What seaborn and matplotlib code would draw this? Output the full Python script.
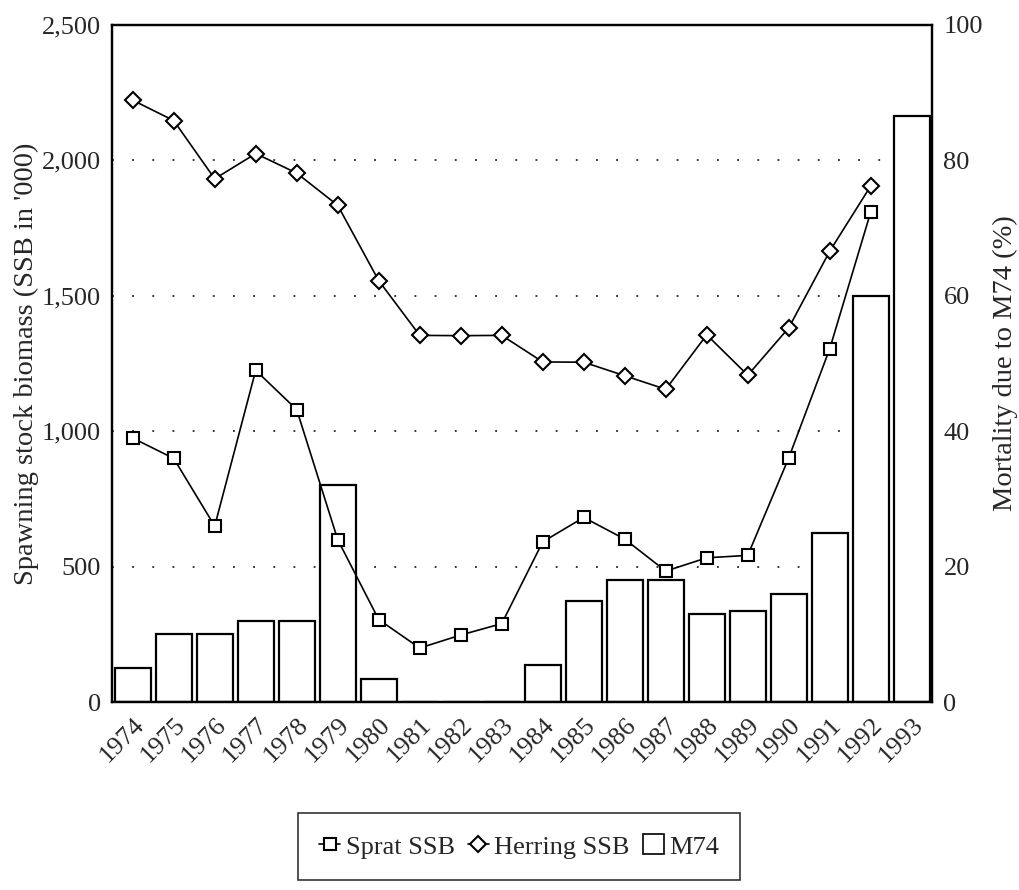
import numpy as np
import pandas as pd
import matplotlib.pyplot as plt
import seaborn as sns
from matplotlib.lines import Line2D
from matplotlib.patches import Patch

# values
years = ["1974", "1975", "1976", "1977", "1978", "1979", "1980", "1981", "1982", "1983",
         "1984", "1985", "1986", "1987", "1988", "1989", "1990", "1991", "1992", "1993"]
m74 = [5, 10, 10, 12, 12, 32, 3.5, 0, 0, 0, 5.5, 15, 18, 18, 13, 13.5, 16, 25, 60, 86.5]

ssb_years = years[:19]
sprat = [975, 900, 650, 1225, 1080, 600, 305, 200, 248, 290,
         592, 682, 602, 484, 533, 542, 902, 1305, 1810]
herring = [2222, 2147, 1932, 2025, 1953, 1834, 1556, 1354, 1353, 1354,
           1256, 1255, 1205, 1155, 1356, 1207, 1382, 1665, 1906]

left_ticks = [0, 500, 1000, 1500, 2000, 2500]
left_labels = ["0", "500", "1,000", "1,500", "2,000", "2,500"]
right_ticks = [0, 20, 40, 60, 80, 100]

sns.set_style("white")
plt.rcParams["font.family"] = ["Liberation Serif", "DejaVu Serif"]

fig = plt.figure(figsize=(10.2, 8.9), dpi=100)
ax = fig.add_axes([0.110, 0.211, 0.804, 0.761])
ax2 = ax.twinx()

# bars on the right-hand axis, lines drawn above them
sns.barplot(x=years, y=m74, color="white", edgecolor="black", linewidth=1.6,
            width=0.87, saturation=1, ax=ax2)
ax2.set_ylim(0, 100)
ax2.set_yticks(right_ticks)
ax2.yaxis.grid(True, linestyle=(0, (1.2, 12)), color="black", linewidth=1.1)
ax2.set_axisbelow(True)

sns.pointplot(x=ssb_years, y=sprat, color="black", markers="s", errorbar=None,
              linewidth=1.2, markersize=8.5, markerfacecolor="white",
              markeredgewidth=1.5, ax=ax)
sns.pointplot(x=ssb_years, y=herring, color="black", markers="D", errorbar=None,
              linewidth=1.2, markersize=8.5, markerfacecolor="white",
              markeredgewidth=1.5, ax=ax)

ax.set_zorder(ax2.get_zorder() + 1)
ax.patch.set_visible(False)

ax.set_ylim(0, 2500)
ax.set_yticks(left_ticks)
ax.set_yticklabels(left_labels)
ax.set_xlim(-0.5, 19.5)
ax.set_xticks(range(len(years)))
ax.set_xticklabels(years, rotation=45, ha="right", rotation_mode="anchor")

ax.tick_params(axis="both", length=0, labelsize=19)
ax.tick_params(axis="x", pad=8)
ax.tick_params(axis="y", pad=8)
ax2.tick_params(axis="y", length=0, labelsize=19, pad=8)

ax.set_xlabel("")
ax.set_ylabel("Spawning stock biomass (SSB in '000)", fontsize=20.5, labelpad=2)
ax2.set_ylabel("Mortality due to M74 (%)", fontsize=20.5, labelpad=7)

for a in (ax, ax2):
    for s in a.spines.values():
        s.set_visible(True)
        s.set_color("black")
        s.set_linewidth(1.6)

handles = [
    Line2D([], [], color="black", marker="s", markersize=8, markerfacecolor="white",
           markeredgewidth=1.5, linewidth=1.2),
    Line2D([], [], color="black", marker="D", markersize=8.5, markerfacecolor="white",
           markeredgewidth=1.5, linewidth=1.2),
    Patch(facecolor="white", edgecolor="black", linewidth=1.2),
]
leg = fig.legend(handles, ["Sprat SSB", "Herring SSB", "M74"], loc="center",
                 bbox_to_anchor=(0.509, 0.049), ncol=3, frameon=True, fancybox=False,
                 edgecolor="black", fontsize=19, handlelength=0.8, handleheight=0.8,
                 handletextpad=0.2, columnspacing=0.5, borderpad=0.8)
leg.get_frame().set_linewidth(1.2)

plt.savefig("out.png", dpi=100)
